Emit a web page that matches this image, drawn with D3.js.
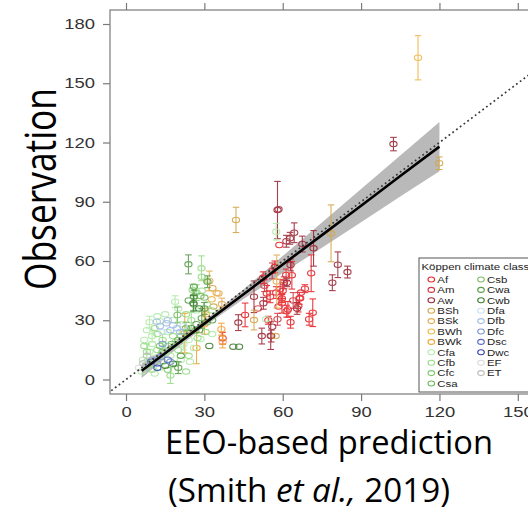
<!DOCTYPE html>
<html>
<head>
<meta charset="utf-8">
<script src="https://cdn.jsdelivr.net/npm/d3@7"></script>
<style>
  html, body { margin: 0; padding: 0; background: #fff; }
  svg { display: block; }
</style>
</head>
<body>
<svg id="chart" width="528" height="515"></svg>
<script>
// Köppen climate classes and their colours
const classes = ["Af","Am","Aw","BSh","BSk","BWh","BWk","Cfa","Cfb","Cfc","Csa",
                 "Csb","Cwa","Cwb","Dfa","Dfb","Dfc","Dsc","Dwc","EF","ET"];
const classColors = ["#e8262b","#d13b47","#9e2b3a","#d4a64a","#e4ad52","#f0b74a","#f3a53a",
                     "#b3ecaa","#98dc88","#80c870","#6fb85e","#7dbb6a","#5c9e4c","#3f7d33",
                     "#cfdff5","#a3bde6","#7d95d6","#5a6cc4","#3946a8","#dadada","#bdbdbd"];

// Sites per class: [EEO-based prediction, observation, error half-width]
const sitesAf = [[58.7,68.1,0],[61.3,52.9,3],[63.5,52.8,7],[70.9,53.8,9.3],[59.0,45.7,5],[60.0,45.0,4],
  [57.5,44.0,3],[58.4,36.9,0],[59.7,38.6,5],[62.0,35.5,4],[66.4,41.1,3],[66.0,37.2,3],[70.1,30.5,3],
  [71.5,33.8,7],[45.6,32.7,6],[37.0,20.9,3],[53.9,43.6,4],[55.2,41.9,3],[59.7,41.0,2],[66.7,41.1,0],
  [61.5,34.6,3],[68.5,46.0,2],[54.5,30.0,2],[63.0,29.0,3],[57.0,57.0,3],[52.5,51.5,3]];
const sitesAm = [[56.0,55.0,4],[60.5,49.0,3],[64.0,40.0,4],[53.0,47.5,3],[67.0,44.0,0],[58.0,30.5,3],[50.5,36.0,0]];
const sitesAw = [[58.0,85.8,14.5],[58.4,86.2,0],[62.8,71.5,3],[64.4,74.3,5],[61.4,70.0,3],[67.5,68.6,4],
  [71.8,66.4,9],[81.1,58.1,6.5],[84.8,54.4,3],[79.0,49.0,4],[49.0,41.9,8],[52.6,38.6,3],[43.0,28.8,4],
  [52.0,22.0,4],[55.6,22.0,3],[55.4,22.2,7],[56.0,26.7,0],[61.6,49.0,2],[63.0,58.0,3],[102.4,119.2,3.4],[65.5,36.0,3]];
const sitesBSh = [[42.1,80.8,6.4],[78.5,74.0,14.4],[119.9,109.5,3.2],[49.0,30.1,5],[33.1,46.2,0],[33.5,36.9,0],[57.3,22.0,0]];
const sitesBSk = [[31.9,49.9,5],[35.4,43.6,0],[34.7,43.8,0],[57.7,49.6,13.4],[36.7,38.2,3]];
const sitesBWh = [[111.8,162.9,11.2],[32.8,40.6,0],[30.5,33.0,3]];
const sitesBWk = [[22.5,23.5,10],[36.5,25.5,3],[37.0,19.0,3],[30.0,28.0,5],[27.0,16.0,8]];
const sitesCfa = [[57.5,74.8,4.2],[30.9,50.4,0],[18.8,39.4,3],[53.6,30.5,0],[9.0,29.0,3],[13.0,29.5,0],
  [8.0,25.0,0],[16.0,24.0,0],[10.0,18.0,0],[15.0,13.0,0],[6.5,10.0,0],[11.0,11.0,0],[17.0,12.0,0],
  [22.0,18.0,3],[21.0,28.0,0],[27.0,35.0,0],[20.0,36.0,0],[28.5,20.5,0],[33.0,23.0,0],[24.5,9.0,0],
  [12.0,32.0,0],[7.0,20.0,0],[10.0,22.0,3],[15.0,33.0,0],[18.0,30.0,0],[9.0,14.0,0],[13.0,6.0,0],
  [21.0,10.0,0],[24.0,20.0,0],[26.0,16.0,0],[6.0,4.0,0],[11.0,3.0,0]];
const sitesCfb = [[28.9,56.3,6.3],[25.5,45.3,3],[11.0,26.0,0],[12.0,23.0,0],[14.0,20.0,3],[18.0,22.0,0],
  [12.0,15.0,0],[8.0,14.0,4],[9.0,8.0,0],[14.0,9.0,0],[20.0,15.0,0],[24.0,12.0,0],[19.0,8.0,0],
  [23.0,33.0,0],[25.0,30.0,4],[30.5,24.0,0],[27.4,21.0,0],[29.0,45.0,0],[31.0,38.0,0],
  [16.0,17.0,0],[19.0,19.0,0],[22.0,24.0,0],[7.0,17.0,0],[29.0,52.0,0],[33.0,35.0,0],[10.0,5.0,0],
  [23.0,4.0,0],[17.0,2.0,4],[27.0,44.0,4]];
const sitesCfc = [[16.0,5.0,0],[21.0,22.0,0],[26.0,38.0,3],[13.0,17.0,0]];
const sitesCsa = [[28.5,42.3,0],[23.0,26.0,3],[17.5,18.0,0],[31.0,29.0,0],[20.0,20.0,0],[14.0,14.0,0]];
const sitesCsb = [[19.7,32.7,4],[30.0,41.5,0],[26.5,24.5,0]];
const sitesCwa = [[23.9,58.3,4.8],[31.2,49.5,3],[26.0,42.0,3],[25.0,26.0,0],[27.0,28.0,0],[29.0,31.0,5],
  [24.0,40.0,0],[26.0,47.0,0],[20.0,6.0,3],[21.0,12.0,0],[28.0,25.0,0],[33.0,30.0,0],[30.0,36.0,3]];
const sitesCwb = [[25.8,38.6,4],[31.9,17.0,0],[41.1,16.6,0],[43.3,16.6,0],[18.0,8.0,0],[15.0,7.0,0],[28.0,36.0,0]];
const sitesDfa = [[14.0,24.0,0],[22.0,27.0,0]];
const sitesDfb = [[11.8,29.3,0],[15.5,28.5,0],[18.0,27.5,0],[19.5,26.0,0],[20.7,24.0,0],[17.0,25.0,0],
  [13.0,27.0,0],[16.0,30.0,0]];
const sitesDfc = [[13.5,11.5,0],[10.0,10.0,0],[14.0,18.0,0],[12.0,8.0,0],[17.0,9.0,0]];
const sitesDsc = [[9.6,9.0,0],[16.0,10.0,0]];
const sitesDwc = [[12.0,6.0,0]];
const sitesEF = [[5.0,6.0,0]];
const sitesET = [[6.6,8.2,0],[8.0,12.0,0]];

// Fitted regression and its confidence band
const fitX  = [6, 15, 30, 45, 60, 75, 90, 105, 120];
const fitY  = [4.4, 13.3, 28.3, 43.2, 58.2, 73.1, 88.0, 103.0, 117.9];
const fitLo = [0.8, 10.8, 26.8, 40.7, 53.9, 66.7, 79.6, 92.6, 105.4];
const fitHi = [8.0, 15.8, 29.8, 45.7, 62.5, 79.5, 96.4, 113.4, 130.4];
// 1:1 reference line
const identityX = [-20, 220];

// Axis ticks
const xTicks = [0, 30, 60, 90, 120, 150];
const yTicks = [0, 30, 60, 90, 120, 150, 180];

const sitesByClass = {
  Af: sitesAf, Am: sitesAm, Aw: sitesAw, BSh: sitesBSh, BSk: sitesBSk, BWh: sitesBWh, BWk: sitesBWk,
  Cfa: sitesCfa, Cfb: sitesCfb, Cfc: sitesCfc, Csa: sitesCsa, Csb: sitesCsb, Cwa: sitesCwa, Cwb: sitesCwb,
  Dfa: sitesDfa, Dfb: sitesDfb, Dfc: sitesDfc, Dsc: sitesDsc, Dwc: sitesDwc, EF: sitesEF, ET: sitesET
};

// ---- layout ----
const frame = { left: 110, top: 10, right: 580, bottom: 394 };
const SX = 1.27;                 // horizontal stretch of the panel lettering
const tickFont = "'Liberation Sans', Arial, sans-serif";
const titleFont = "'Open Sans', 'Noto Sans', sans-serif";

const svg = d3.select("#chart");
const x = d3.scaleLinear().domain([0, 150]).range([126, 517.8]);
const y = d3.scaleLinear().domain([0, 180]).range([379.5, 24]);
const color = d3.scaleOrdinal().domain(classes).range(classColors);

svg.append("defs").append("clipPath").attr("id", "panel")
  .append("rect")
  .attr("x", frame.left).attr("y", frame.top)
  .attr("width", frame.right - frame.left).attr("height", frame.bottom - frame.top);

const plot = svg.append("g").attr("clip-path", "url(#panel)");

// confidence band
const bandData = fitX.map((v, i) => ({ x: v, lo: fitLo[i], hi: fitHi[i], fit: fitY[i] }));
plot.append("path")
  .datum(bandData)
  .attr("fill", "#b9b9b9")
  .attr("d", d3.area().x(d => x(d.x)).y0(d => y(d.lo)).y1(d => y(d.hi)));

// sites with error bars
const capHalf = 3.3;
classes.forEach(cls => {
  const c = color(cls);
  const g = plot.append("g").attr("stroke", c).attr("fill", "none")
    .attr("stroke-width", 1.1).attr("opacity", 0.9);
  sitesByClass[cls].forEach(([p, o, e]) => {
    const cx = x(p), cy = y(o);
    if (e > 0) {
      const y0 = y(o - e), y1 = y(o + e);
      g.append("line").attr("x1", cx).attr("x2", cx).attr("y1", y0).attr("y2", y1);
      g.append("line").attr("x1", cx - capHalf).attr("x2", cx + capHalf).attr("y1", y0).attr("y2", y0);
      g.append("line").attr("x1", cx - capHalf).attr("x2", cx + capHalf).attr("y1", y1).attr("y2", y1);
    }
    g.append("ellipse").attr("cx", cx).attr("cy", cy).attr("rx", 3.6).attr("ry", 2.7)
      .attr("fill", "#fff").attr("fill-opacity", 0);
  });
});

// 1:1 line
plot.append("path")
  .datum(identityX)
  .attr("fill", "none").attr("stroke", "#3a3a3a").attr("stroke-width", 1.7)
  .attr("stroke-dasharray", "1.8,2.9")
  .attr("d", d3.line().x(d => x(d)).y(d => y(d)));

// regression line
plot.append("path")
  .datum(bandData)
  .attr("fill", "none").attr("stroke", "#000").attr("stroke-width", 2.6)
  .attr("d", d3.line().x(d => x(d.x)).y(d => y(d.fit)));

// panel frame
svg.append("rect")
  .attr("x", frame.left).attr("y", frame.top)
  .attr("width", frame.right - frame.left).attr("height", frame.bottom - frame.top)
  .attr("fill", "none").attr("stroke", "#7a7a7a").attr("stroke-width", 1.2);

// axes
function styleAxis(g) {
  g.select(".domain").remove();
  g.selectAll(".tick line").attr("stroke", "#7a7a7a").attr("stroke-width", 1.2);
  g.selectAll(".tick text").attr("fill", "#333").attr("font-family", tickFont).attr("font-size", 14.5);
}
const gl = svg.append("g").attr("transform", `translate(${frame.left},0)`)
  .call(d3.axisLeft(y).tickValues(yTicks).tickSize(7).tickSizeOuter(0));
styleAxis(gl);
gl.selectAll(".tick text").attr("x", -15 / SX).attr("transform", `scale(${SX},1)`);

const gb = svg.append("g").attr("transform", `translate(0,${frame.bottom})`)
  .call(d3.axisBottom(x).tickValues(xTicks).tickSize(7).tickSizeOuter(0).tickPadding(5.5));
styleAxis(gb);
gb.selectAll(".tick text").attr("transform", `scale(${SX},1)`);

const gt = svg.append("g").attr("transform", `translate(0,${frame.top})`)
  .call(d3.axisTop(x).tickValues(xTicks).tickSize(7).tickSizeOuter(0).tickFormat(""));
styleAxis(gt);

// legend
const legend = svg.append("g").attr("transform", "translate(419,258)");
legend.append("rect").attr("x", 0).attr("y", 0).attr("width", 140).attr("height", 134)
  .attr("fill", "#fff").attr("stroke", "#555").attr("stroke-width", 1);
function stretchedText(parent, tx, ty, str, size) {
  parent.append("text")
    .attr("transform", `translate(${tx},${ty}) scale(${SX},1)`)
    .attr("font-family", tickFont).attr("font-size", size).attr("fill", "#222")
    .text(str);
}
stretchedText(legend, 2.5, 11.5, "Köppen climate class", 9);
classes.forEach((cls, i) => {
  const col = i < 11 ? 0 : 1;
  const row = i < 11 ? i : i - 11;
  const mx = col === 0 ? 12.3 : 62;
  const my = 21.5 + row * 10.4;
  legend.append("ellipse").attr("cx", mx).attr("cy", my).attr("rx", 3.3).attr("ry", 2.5)
    .attr("fill", "none").attr("stroke", color(cls)).attr("stroke-width", 1.1);
  stretchedText(legend, mx + 6, my + 3.3, cls, 9);
});

// axis titles
svg.append("text")
  .attr("transform", "translate(56,189) scale(1.2,1) rotate(-90)")
  .attr("text-anchor", "middle")
  .attr("font-family", titleFont).attr("font-size", 36).attr("fill", "#000")
  .attr("textLength", 202).attr("lengthAdjust", "spacingAndGlyphs")
  .text("Observation");

svg.append("text")
  .attr("x", 165).attr("y", 454)
  .attr("font-family", titleFont).attr("font-size", 33).attr("fill", "#000")
  .attr("textLength", 328).attr("lengthAdjust", "spacingAndGlyphs")
  .text("EEO-based prediction");

const cite = svg.append("text")
  .attr("x", 168).attr("y", 502)
  .attr("font-family", titleFont).attr("font-size", 33).attr("fill", "#000")
  .attr("textLength", 282).attr("lengthAdjust", "spacingAndGlyphs");
cite.append("tspan").text("(Smith ");
cite.append("tspan").attr("font-style", "italic").text("et al.,");
cite.append("tspan").text(" 2019)");
</script>
</body>
</html>
